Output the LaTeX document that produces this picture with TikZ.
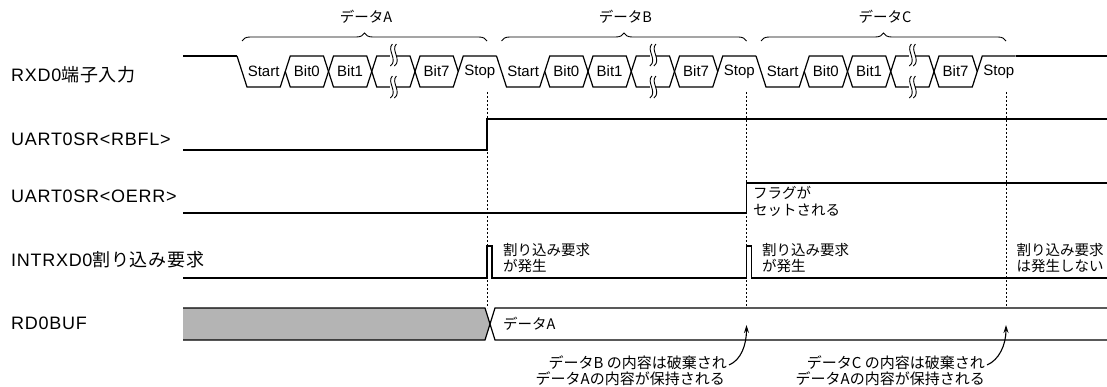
\documentclass[tikz,border=0pt]{standalone}
\usepackage{fontspec}
\setmainfont{Liberation Sans}
\newfontfamily\jp{Noto Sans CJK JP}
\newfontfamily\lblfont[LetterSpace=4]{Liberation Sans}
\newfontfamily\lbljp[LetterSpace=4]{Noto Sans CJK JP}
\usetikzlibrary{decorations.pathreplacing,arrows.meta}
\definecolor{bufgray}{RGB}{180,180,180}
\tikzset{
  sig/.style={line width=1.2pt, line join=miter},
  guide/.style={line width=1pt, dash pattern=on 2pt off 2pt},
  squig/.style={line width=0.9pt},
  celltxt/.style={font=\fontsize{15}{15}\selectfont, inner sep=0pt},
  rowlbl/.style={font=\lblfont\fontsize{18}{18}\selectfont, anchor=west, inner sep=0pt},
  note/.style={font=\jp\fontsize{14.5}{17}\selectfont, anchor=west, inner sep=0pt},
  bnote/.style={font=\jp\fontsize{15}{17}\selectfont, anchor=east, inner sep=0pt},
  bracelbl/.style={font=\jp\fontsize{14.5}{15}\selectfont, inner sep=0pt},
  databrace/.style={line width=0.9pt, decorate, decoration={brace, amplitude=8pt}},
  arr/.style={line width=1.1pt, -{Stealth[length=8pt,width=5pt]}}
}
\begin{document}
\begin{tikzpicture}[x=1pt,y=-1pt]
\useasboundingbox (0,0) rectangle (1107,387);

% row labels
\node[rowlbl] (lrxd) at (11,75) {RXD0{\lbljp\fontsize{18}{18}\selectfont 端子入力}};
\node[rowlbl] (lrbfl) at (11,139.5) {UART0SR<RBFL>};
\node[rowlbl] (loerr) at (11,196) {UART0SR<OERR>};
\node[rowlbl] (lint) at (11,260) {INTRXD0{\lbljp\fontsize{18}{18}\selectfont 割り込み要求}};
\node[rowlbl] (lbuf) at (11,323) {RD0BUF};

% RXD0 waveform
\draw[sig] (183,56) -- (237,56);
\draw[sig] (1015.5,56) -- (1108,56);
\foreach \f/\nm [count=\i] in {0/A,259.5/B,519/C}{
  \pgfmathsetmacro\xa{242+\f}
  \pgfmathsetmacro\xb{\xa+43.25}
  \pgfmathsetmacro\xc{\xa+86.5}
  \pgfmathsetmacro\xd{\xa+129.75}
  \pgfmathsetmacro\xe{\xa+173}
  \pgfmathsetmacro\xg{\xa+216.25}
  \pgfmathsetmacro\xh{\xa+259.5}
  \pgfmathsetmacro\xs{(\xd+\xe)/2}
  \draw[sig] (\xa-5,56) -- (\xa+5,87) -- (\xb-5,87) -- (\xb+5,56) -- (\xc-5,56)
     -- (\xc+5,87) -- (\xd-5,87) -- (\xd+5,56) -- (\xe-5,56) -- (\xe+5,87)
     -- (\xg-5,87) -- (\xg+5,56) -- (\xh-5,56);
  \draw[sig] (\xb,71.5) -- (\xb+5,87) -- (\xc-5,87) -- (\xc+5,56) -- (\xd-5,56)
     -- (\xd+5,87) -- (\xe-5,87) -- (\xe+5,56) -- (\xg-5,56) -- (\xg,71.5);
  \foreach \yy in {55,87}{
    \fill[white] (\xs-3,\yy-2.5) rectangle (\xs+3,\yy+2.5);
    \draw[squig] (\xs-1,\yy-11) .. controls (\xs-7,\yy-5) and (\xs+5,\yy+5) .. (\xs-3,\yy+11);
    \draw[squig] (\xs+3,\yy-11) .. controls (\xs-3,\yy-5) and (\xs+9,\yy+5) .. (\xs+1,\yy+11);
  }
  \node[celltxt] (start\i) at ({(\xa+\xb)/2},71.5) {Start};
  \node[celltxt] (bitz\i) at ({(\xb+\xc)/2},71.5) {Bit0};
  \node[celltxt] (bito\i) at ({(\xc+\xd)/2},71.5) {Bit1};
  \node[celltxt] (bits\i) at ({(\xe+\xg)/2},71.5) {Bit7};
  \node[celltxt] (stop\i) at ({(\xg+\xh)/2},71.5) {Stop};
  % brace and label
  \coordinate (bl\i) at (\xa,41);
  \coordinate (br\i) at (\xa+245,41);
  \draw[databrace] (bl\i) -- (br\i);
  \node[bracelbl] (dl\i) at ({\xa+124},17) {データ\nm};
}

% guides
\draw[guide] (487,92) -- (487,308);
\draw[guide] (746.5,92) -- (746.5,308);
\draw[guide] (1006,92) -- (1006,308);

% RBFL
\draw[sig] (183,150) -- (487,150) -- (487,119) -- (1108,119);
% OERR
\draw[sig] (183,213) -- (746.5,213) -- (746.5,183) -- (1108,183);
\node[note] (flag1) at (753,193) {フラグが};
\node[note] (flag2) at (753,210) {セットされる};
% INTRXD0
\draw[sig] (183,278) -- (487,278) -- (487,246) -- (492,246) -- (492,278)
   -- (746.5,278) -- (746.5,246) -- (751.5,246) -- (751.5,278) -- (1108,278);
\node[note] (ia1) at (503,250) {割り込み要求};
\node[note] (ia2) at (503,266) {が発生};
\node[note] (ib1) at (762,250) {割り込み要求};
\node[note] (ib2) at (762,266) {が発生};
\node[note] (ic1) at (1016.5,250) {割り込み要求};
\node[note] (ic2) at (1016.5,266) {は発生しない};

% RD0BUF
\fill[bufgray] (183,308) -- (485,308) -- (490,324) -- (485,340) -- (183,340) -- cycle;
\draw[sig] (183,308) -- (485,308) -- (495,340) -- (1108,340);
\draw[sig] (183,340) -- (485,340) -- (495,308) -- (1108,308);
\node[note] (bufA) at (503,324) {データA};

% bottom notes
\node[bnote] (nb1) at (727,363) {データB の内容は破棄され};
\node[bnote] (nb2) at (725,379) {データAの内容が保持される};
\node[bnote] (nc1) at (985,363) {データC の内容は破棄され};
\node[bnote] (nc2) at (985,379) {データAの内容が保持される};
\coordinate (tipB) at (746.5,325);
\coordinate (tipC) at (1006,325);
\draw[arr] ([xshift=2pt,yshift=-2pt]nb1.east) .. controls +(12,-5) and +(0,20) .. (tipB);
\draw[arr] ([xshift=2pt,yshift=-2pt]nc1.east) .. controls +(12,-5) and +(0,20) .. (tipC);
\end{tikzpicture}
\end{document}
